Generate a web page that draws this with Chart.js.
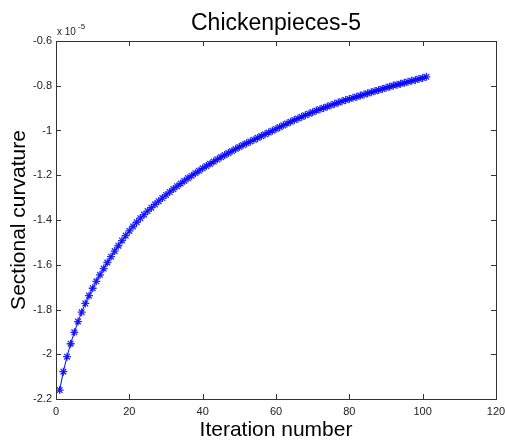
<!DOCTYPE html>
<html>
<head>
<meta charset="utf-8">
<script src="https://cdn.jsdelivr.net/npm/chart.js@4"></script>
<style>
  html, body { margin: 0; padding: 0; background: #fff; }
  #wrap { width: 505px; height: 442px; }
</style>
</head>
<body>
<div id="wrap"><canvas id="myChart" width="505" height="442"></canvas></div>
<script>
// iterations 1..101
const iterations = [];
for (let i = 1; i <= 101; i++) iterations.push(i);

// sectional curvature, in units of 1e-5
const curvature = [
  -2.160, -2.078, -2.011, -1.953, -1.902, -1.854, -1.812, -1.773, -1.738, -1.705,
  -1.674, -1.645, -1.617, -1.590, -1.564, -1.539, -1.515, -1.492, -1.470, -1.449,
  -1.429, -1.410, -1.392, -1.376, -1.360, -1.345, -1.330, -1.316, -1.302, -1.288,
  -1.275, -1.262, -1.249, -1.237, -1.225, -1.213, -1.202, -1.191, -1.180, -1.169,
  -1.159, -1.149, -1.139, -1.129, -1.119, -1.110, -1.101, -1.092, -1.083, -1.074,
  -1.065, -1.057, -1.049, -1.041, -1.033, -1.025, -1.017, -1.009, -1.001, -0.993,
  -0.985, -0.977, -0.969, -0.961, -0.953, -0.946, -0.939, -0.932, -0.925, -0.918,
  -0.911, -0.905, -0.899, -0.893, -0.887, -0.881, -0.875, -0.869, -0.864, -0.859,
  -0.854, -0.849, -0.844, -0.839, -0.834, -0.829, -0.824, -0.819, -0.814, -0.809,
  -0.804, -0.799, -0.795, -0.791, -0.787, -0.782, -0.778, -0.774, -0.769, -0.765,
  -0.760
];

const xTicks = [0, 20, 40, 60, 80, 100, 120];
const yTicks = [-2.2, -2, -1.8, -1.6, -1.4, -1.2, -1, -0.8, -0.6];

const chartTitle = 'Chickenpieces-5';
const xLabel = 'Iteration number';
const yLabel = 'Sectional curvature';

const FONT = 'Arial, "Liberation Sans", sans-serif';

// cadre façon matlab : boite, ticks vers l'intérieur, textes
const matlabFrame = {
  id: 'matlabFrame',
  afterDraw(chart) {
    const { ctx, chartArea: a, scales } = chart;
    const x = scales.x, y = scales.y;
    ctx.save();
    ctx.strokeStyle = '#333';
    ctx.lineWidth = 1;
    ctx.strokeRect(Math.round(a.left) + 0.5, Math.round(a.top) + 0.5,
      Math.round(a.right - a.left), Math.round(a.bottom - a.top));

    const len = 5;
    ctx.beginPath();
    xTicks.forEach(v => {
      const px = Math.round(x.getPixelForValue(v)) + 0.5;
      ctx.moveTo(px, a.bottom); ctx.lineTo(px, a.bottom - len);
      ctx.moveTo(px, a.top); ctx.lineTo(px, a.top + len);
    });
    yTicks.forEach(v => {
      const py = Math.round(y.getPixelForValue(v)) + 0.5;
      ctx.moveTo(a.left, py); ctx.lineTo(a.left + len, py);
      ctx.moveTo(a.right, py); ctx.lineTo(a.right - len, py);
    });
    ctx.stroke();

    ctx.fillStyle = '#000';
    ctx.textAlign = 'center';
    ctx.textBaseline = 'alphabetic';
    ctx.font = '23px ' + FONT;
    ctx.fillText(chartTitle, (a.left + a.right) / 2, 30);

    ctx.font = '21px ' + FONT;
    ctx.fillText(xLabel, (a.left + a.right) / 2, 436);

    ctx.save();
    ctx.translate(25, (a.top + a.bottom) / 2);
    ctx.rotate(-Math.PI / 2);
    ctx.fillText(yLabel, 0, 0);
    ctx.restore();

    // multiplicateur
    ctx.fillStyle = '#222';
    ctx.textAlign = 'left';
    ctx.font = '10px ' + FONT;
    ctx.fillText('x 10', a.left + 1, 35);
    ctx.font = '8px ' + FONT;
    ctx.fillText('-5', a.left + 22, 29);
    ctx.restore();
  }
};

const ctx = document.getElementById('myChart').getContext('2d');
const myChart = new Chart(ctx, {
  type: 'line',
  data: {
    labels: iterations,
    datasets: [{
      data: iterations.map((it, i) => ({ x: it, y: curvature[i] })),
      borderColor: 'rgb(0, 0, 255)',
      backgroundColor: 'rgb(0, 0, 255)',
      borderWidth: 1,
      pointStyle: 'star',
      pointRadius: 4,
      pointBorderWidth: 1.3,
      pointBorderColor: 'rgba(0, 0, 255, 0.85)',
      tension: 0,
      fill: false
    }]
  },
  options: {
    responsive: false,
    animation: false,
    layout: { padding: { top: 41, right: 9, left: 0, bottom: 0 } },
    plugins: {
      legend: { display: false },
      tooltip: { enabled: false },
      title: { display: false }
    },
    scales: {
      x: {
        type: 'linear',
        min: 0, max: 120,
        afterBuildTicks: s => { s.ticks = xTicks.map(v => ({ value: v })); },
        afterFit: s => { s.height = 43; s.paddingLeft = 0; s.paddingRight = 0; },
        grid: { drawOnChartArea: false, drawTicks: false },
        border: { display: false },
        ticks: { color: '#222', font: { size: 11, family: FONT }, padding: 6, maxRotation: 0,
          callback: v => String(v) }
      },
      y: {
        type: 'linear',
        min: -2.2, max: -0.6,
        afterBuildTicks: s => { s.ticks = yTicks.map(v => ({ value: v })); },
        afterFit: s => { s.width = 56; s.paddingTop = 0; s.paddingBottom = 0; },
        grid: { drawOnChartArea: false, drawTicks: false },
        border: { display: false },
        ticks: { color: '#222', font: { size: 11, family: FONT }, padding: 4,
          callback: v => String(Math.round(v * 10) / 10) }
      }
    }
  },
  plugins: [matlabFrame]
});
</script>
</body>
</html>
